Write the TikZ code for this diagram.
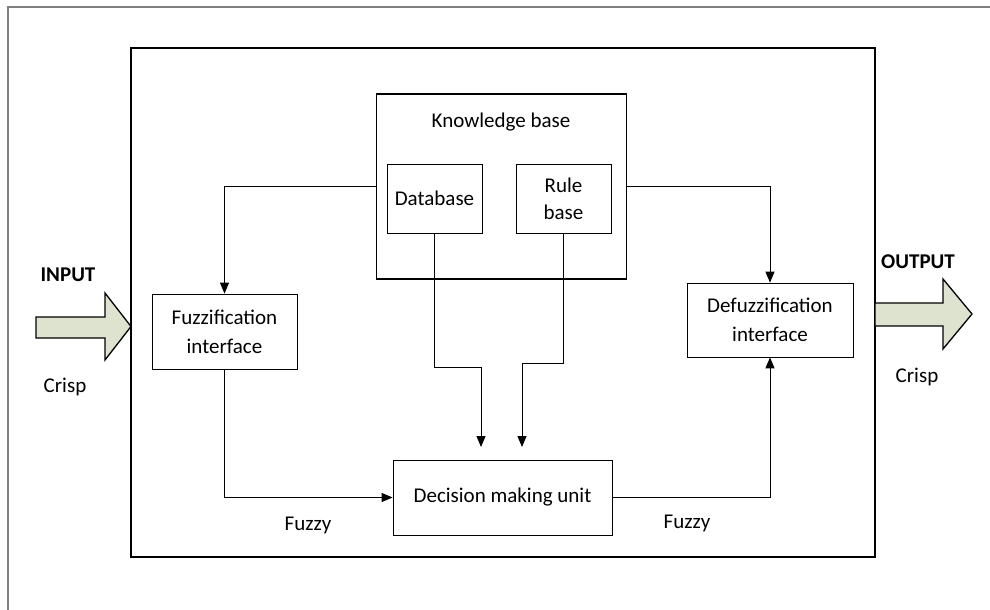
\documentclass[tikz,border=0pt]{standalone}
\usepackage{fontspec}
\setmainfont{Carlito}
\usetikzlibrary{arrows.meta}
\definecolor{arrowfill}{RGB}{221,227,206}
\definecolor{framegray}{RGB}{128,128,128}
\tikzset{
  box/.style={draw=black, line width=0.8pt, align=center, inner sep=2pt,
              font=\fontsize{21}{29}\selectfont},
  lbl/.style={inner sep=0pt, font=\fontsize{21}{29}\selectfont},
  boldlbl/.style={inner sep=0pt, font=\fontsize{21}{29}\selectfont\bfseries},
  arr/.style={draw=black, line width=1pt, -{Triangle[length=11pt,width=9pt]}},
  plain/.style={draw=black, line width=1pt},
  bigarrow/.style={draw=black, line width=1.3pt, fill=arrowfill, line join=miter}
}
\begin{document}
\begin{tikzpicture}[x=1pt,y=-1pt]
\useasboundingbox (0,0) rectangle (990,610);
% outer frame (only top and left edges visible)
\draw[framegray, line width=1.3pt] (8,610) -- (8,7) -- (990,7);
% system box
\node[draw=black, line width=1.4pt, minimum width=744pt, minimum height=509pt, inner sep=0pt] (sys) at (503,302.5) {};
% knowledge base
\node[draw=black, line width=1.9pt, minimum width=250pt, minimum height=185pt, inner sep=0pt] (kb) at (501.5,186.5) {};
\node[lbl] (kbl) at (501,122) {Knowledge base};
\node[box, minimum width=95pt, minimum height=69pt] (db) at (434.5,198.5) {Database};
\node[box, minimum width=95pt, minimum height=69pt] (rb) at (563.5,198.5) {Rule\\[-2pt]base};
% processing blocks
\node[box, minimum width=145pt, minimum height=75pt] (fuzz) at (224.5,331.5) {Fuzzification\\interface};
\node[box, minimum width=166pt, minimum height=74pt] (defuzz) at (770,320) {Defuzzification\\interface};
\node[box, minimum width=219pt, minimum height=75pt] (dec) at (502.5,497.5) {Decision making unit};
% connectors
\draw[arr] (kb.west) -| (fuzz.north);
\draw[arr] (kb.east) -| (defuzz.north);
\draw[arr] (fuzz.south) |- (dec.west);
\draw[arr] (dec.east) -| (defuzz.south);
\coordinate (d1) at (481,367);
\coordinate (d2) at (481,447);
\coordinate (r1) at (522,363);
\coordinate (r2) at (522,447);
\draw[arr] (db.south) |- (d1) -- (d2);
\draw[arr] (rb.south) |- (r1) -- (r2);
% labels
\node[lbl] (fz1) at (308,525) {Fuzzy};
\node[lbl] (fz2) at (687,523) {Fuzzy};
\node[boldlbl] (inl) at (68,275) {INPUT};
\node[lbl] (cr1) at (65,387) {Crisp};
\node[boldlbl] (outl) at (918,262) {OUTPUT};
\node[lbl] (cr2) at (917,377) {Crisp};
% big input / output arrows
\draw[bigarrow] (36,317) -- (105,317) -- (105,293) -- (131,326.5) -- (105,360) -- (105,338) -- (36,338) -- cycle;
\draw[bigarrow] (875,303) -- (943,303) -- (943,279) -- (972,314) -- (943,349) -- (943,326) -- (875,326) -- cycle;
\end{tikzpicture}
\end{document}
